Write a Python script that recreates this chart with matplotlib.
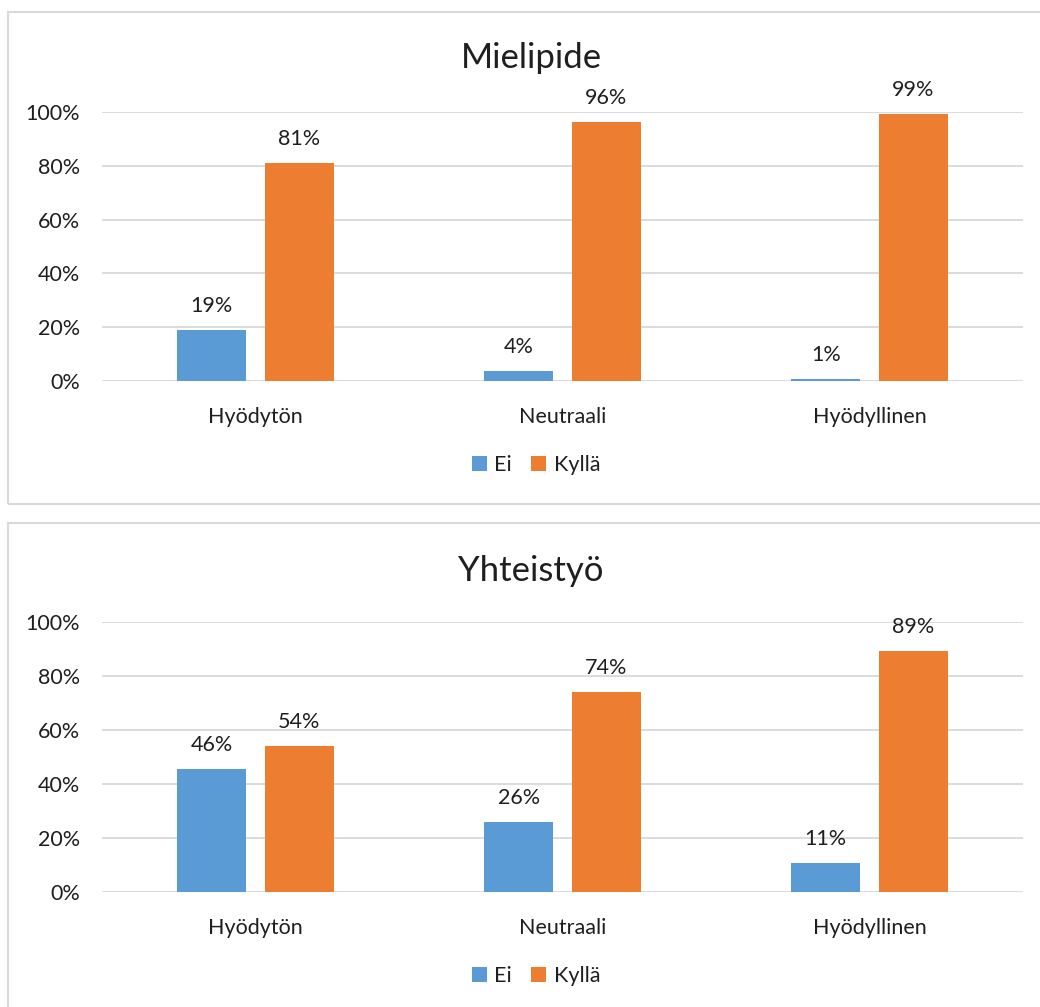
import matplotlib.pyplot as plt
from matplotlib.patches import Rectangle
import numpy as np

plt.rcParams['font.family'] = ['Lato', 'DejaVu Sans']

categories = ['Hyödytön', 'Neutraali', 'Hyödyllinen']
series_names = ['Ei', 'Kyllä']
colors = ['#5B9BD5', '#ED7D31']

titles = ['Mielipide', 'Yhteistyö']
mielipide_ei = [0.19, 0.037, 0.008]
mielipide_kylla = [0.81, 0.963, 0.992]
yhteistyo_ei = [0.456, 0.258, 0.106]
yhteistyo_kylla = [0.542, 0.742, 0.894]
yticks = [0, 0.2, 0.4, 0.6, 0.8, 1.0]
ytick_labels = ['0%', '20%', '40%', '60%', '80%', '100%']

W, H = 1040, 1007
fig = plt.figure(figsize=(W / 100, H / 100), dpi=100)

text_col = '#1f1f1f'
grid_col = '#d9d9d9'
fs = 15.5


def fx(px):
    return px / W


def fy(py):
    return 1 - py / H


# panel frames (right / bottom edges run past the image, as in the reference)
for top, bottom in [(12, 504), (523, 1012)]:
    fig.patches.append(Rectangle((fx(8), fy(bottom)), fx(1100) - fx(8), fy(top) - fy(bottom),
                                 transform=fig.transFigure, fill=False,
                                 edgecolor=grid_col, linewidth=1.5))


def draw_panel(y0, y100, title, ei, kylla, title_y, legend_y):
    ax = fig.add_axes([fx(102), fy(y0), fx(1023) - fx(102), fy(y100) - fy(y0)])
    x = np.arange(len(categories))
    w = 0.225
    off = 0.1425
    b1 = ax.bar(x - off, ei, w, color=colors[0], label=series_names[0], zorder=3)
    b2 = ax.bar(x + off, kylla, w, color=colors[1], label=series_names[1], zorder=3)
    for bars in (b1, b2):
        for r in bars:
            h = r.get_height()
            ax.annotate(f'{h * 100:.0f}%', (r.get_x() + r.get_width() / 2, h),
                        xytext=(0, 10), textcoords='offset points',
                        ha='center', va='bottom', fontsize=fs, color=text_col)
    ax.set_xlim(-0.5, 2.5)
    ax.set_ylim(0, 1)
    ax.set_yticks(yticks)
    ax.set_yticklabels(ytick_labels)
    ax.set_xticks(x)
    ax.set_xticklabels(categories)
    ax.tick_params(axis='y', length=0, pad=16, labelsize=fs, labelcolor=text_col)
    ax.tick_params(axis='x', length=0, pad=19, labelsize=fs, labelcolor=text_col)
    ax.grid(axis='y', color=grid_col, linewidth=1.3, zorder=0)
    for s in ax.spines.values():
        s.set_visible(False)
    fig.text(fx(531), fy(title_y), title, ha='center', va='center',
             fontsize=25, color=text_col)
    ax.legend(loc='center', bbox_to_anchor=(fx(536), fy(legend_y)),
              bbox_transform=fig.transFigure, ncol=2, frameon=False,
              fontsize=fs, handlelength=0.7, handleheight=0.7,
              handletextpad=0.35, columnspacing=0.9, labelcolor=text_col)
    return ax


draw_panel(381, 112, titles[0], mielipide_ei, mielipide_kylla, 58, 465)
draw_panel(892, 622, titles[1], yhteistyo_ei, yhteistyo_kylla, 571, 976)

fig.savefig('out.png', dpi=100)
